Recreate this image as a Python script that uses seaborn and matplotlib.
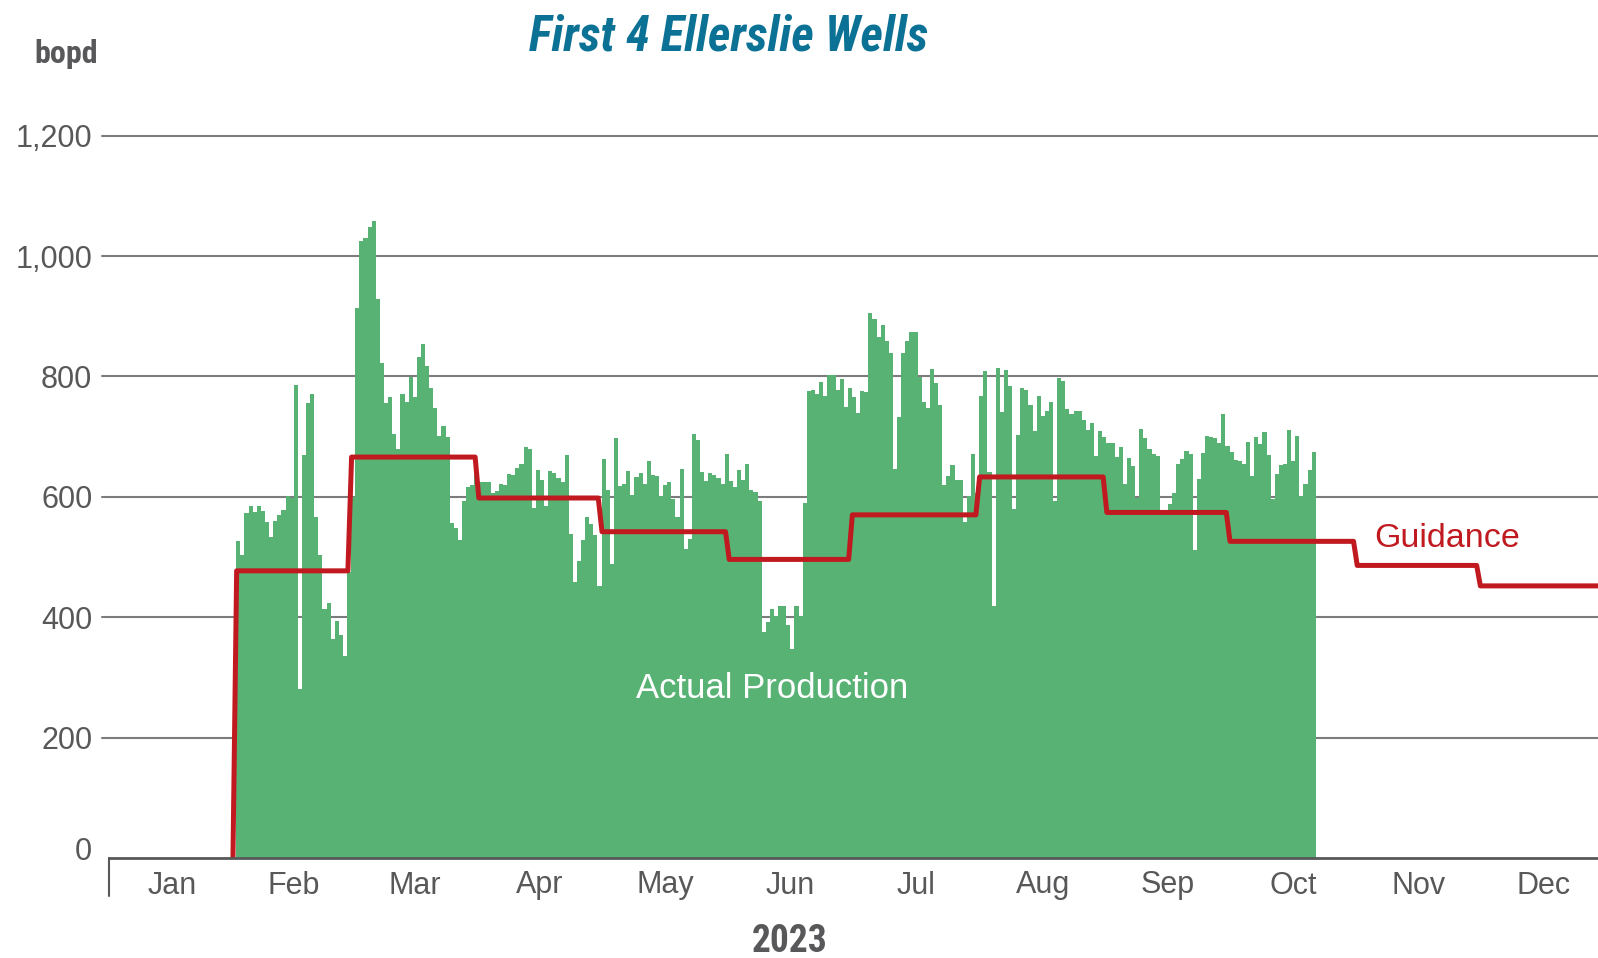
import numpy as np
import pandas as pd
import matplotlib
matplotlib.use("Agg")
import matplotlib.pyplot as plt
import seaborn as sns
from matplotlib import font_manager as fm
from matplotlib.transforms import ScaledTranslation

# daily oil rate (bopd): Feb 1 .. Oct 21, 2023
feb = [527, 503, 573, 585, 575, 585, 577, 558, 534, 560, 569, 578, 602, 598,
       786, 281, 669, 756, 771, 567, 503, 414, 424, 363, 394, 371, 336, 475]
mar = [600, 914, 1025, 1030, 1049, 1058, 929, 822, 755, 765, 704, 679, 771, 757,
       799, 766, 832, 854, 818, 781, 747, 701, 717, 699, 557, 548, 529, 593, 617,
       619, 640]
apr = [625, 625, 625, 607, 610, 621, 619, 638, 636, 648, 655, 682, 680, 581, 645,
       628, 584, 643, 640, 632, 625, 669, 538, 459, 494, 529, 566, 555, 537, 452]
may = [663, 611, 488, 697, 618, 621, 643, 603, 633, 640, 622, 659, 636, 634, 601,
       619, 624, 596, 567, 647, 514, 530, 705, 694, 641, 626, 640, 636, 631, 621,
       671]
jun = [626, 616, 644, 628, 654, 611, 608, 593, 376, 392, 414, 402, 418, 418, 387,
       348, 418, 402, 589, 776, 778, 771, 791, 768, 803, 803, 777, 795, 749, 781]
jul = [765, 739, 776, 774, 905, 896, 866, 885, 859, 839, 647, 733, 839, 859, 874,
       874, 799, 758, 747, 812, 789, 753, 619, 634, 653, 628, 628, 558, 601, 671,
       607]
aug = [768, 809, 642, 418, 814, 741, 810, 784, 580, 702, 781, 778, 753, 710, 768,
       734, 743, 757, 593, 798, 793, 746, 737, 743, 743, 727, 711, 723, 668, 709,
       699]
sep = [689, 689, 666, 682, 621, 665, 651, 598, 712, 698, 680, 671, 668, 575, 578,
       588, 606, 655, 663, 676, 671, 512, 629, 672, 701, 700, 697, 690, 737, 685]
oct_ = [674, 661, 660, 655, 691, 634, 700, 688, 708, 669, 597, 638, 652, 655, 711,
        660, 701, 601, 621, 645, 674]

# monthly guidance, Feb .. Dec
guidance_bopd = [477, 666, 598, 542, 496, 570, 633, 574, 526, 486, 452]
month_labels = ["Jan", "Feb", "Mar", "Apr", "May", "Jun",
                "Jul", "Aug", "Sep", "Oct", "Nov", "Dec"]
y_ticks = [0, 200, 400, 600, 800, 1000, 1200]

GREEN = "#58b274"
RED = "#c01a20"
GREY = "#58585a"
BLUE = "#0b7295"

sns.set_theme(style="white")
avail = {f.name for f in fm.fontManager.ttflist}
NARROW = next((f for f in ["Liberation Sans Narrow", "Roboto Condensed",
                           "Open Sans Condensed", "Noto Sans Condensed"] if f in avail), None)
plt.rcParams["font.family"] = ["Liberation Sans", "DejaVu Sans"]

daily = feb + mar + apr + may + jun + jul + aug + sep + oct_
df = pd.DataFrame({"date": pd.date_range("2023-02-01", periods=len(daily), freq="D"),
                   "bopd": daily})
df["day"] = df["date"].dt.dayofyear - 1 + 0.5      # bar centre, Jan 1 -> 0..1

month_start = np.asarray(pd.date_range("2023-01-01", periods=12, freq="MS").dayofyear - 1)
month_mid = month_start + np.diff(np.append(month_start, 365)) / 2

# guidance step line: ramps up on Feb 1, then steps at each month start
gx, gy = [month_start[1] - 0.8], [0]
prev = None
for ms, g in zip(month_start[1:], guidance_bopd):
    if prev is None:
        gx.append(ms + 0.1)
    else:
        gx += [ms - 0.8, ms + 0.1]
        gy.append(prev)
    gy.append(g)
    prev = g
gx.append(366); gy.append(prev)
guide = pd.DataFrame({"day": gx, "bopd": gy})

fig = plt.figure(figsize=(15.98, 9.58), dpi=100)
ax = fig.add_axes([109 / 1598, 100 / 958, 1490 / 1598, 752.5 / 958])

# grid lines (start a little left of the axis)
for v in y_ticks[1:]:
    ax.plot([-0.005, 1], [v, v], transform=ax.get_yaxis_transform(), color="#7c7c7c",
            lw=1.5, zorder=0, clip_on=False)

sns.barplot(data=df, x="day", y="bopd", native_scale=True, width=1.0, color=GREEN,
            saturation=1, errorbar=None, linewidth=0, ax=ax, zorder=2)
sns.lineplot(data=guide, x="day", y="bopd", color=RED, lw=3.6, estimator=None,
             sort=False, ax=ax, zorder=3)

ax.set_xlim(0, 363)
ax.set_ylim(0, 1250)
ax.set_xlabel(""); ax.set_ylabel("")
for s in ["left", "top", "right"]:
    ax.spines[s].set_visible(False)
ax.spines["bottom"].set_color(GREY)
ax.spines["bottom"].set_linewidth(2)
ax.spines["bottom"].set_zorder(4)

ax.set_xticks(month_start)
ax.set_xticklabels([""] * 12)
ax.set_xticks(month_mid, minor=True)
ax.set_xticklabels(month_labels, minor=True)
ax.tick_params(axis="x", which="major", length=9, width=1.5, color=GREY, direction="out")
ax.tick_params(axis="x", which="minor", length=0, pad=9, labelsize=22, labelcolor=GREY)
ax.plot([0, 0], [0, -38 / 752.5], transform=ax.get_xaxis_transform(), color=GREY,
        lw=1.5, clip_on=False)

ax.set_yticks(y_ticks)
ax.set_yticklabels([f"{v:,}" for v in y_ticks])
ax.tick_params(axis="y", length=0, pad=12, labelsize=22, labelcolor=GREY)
lab0 = ax.get_yticklabels()[0]
lab0.set_transform(lab0.get_transform() + ScaledTranslation(0, 0.1, fig.dpi_scale_trans))

bold_fam = [NARROW, "Liberation Sans"] if NARROW else ["Liberation Sans"]
title_size = 35 if NARROW else 29.5
fig.text(729 / 1598, 1 - 37 / 958, "First 4 Ellerslie Wells", ha="center", va="center",
         fontsize=title_size, fontweight="bold", fontstyle="italic", color=BLUE,
         family=bold_fam)
fig.text(66 / 1598, 1 - 54 / 958, "bopd", ha="center", va="center",
         fontsize=23 if NARROW else 20.5, fontweight="bold", color=GREY, family=bold_fam)
fig.text(790 / 1598, 1 - 942 / 958, "2023", ha="center", va="center",
         fontsize=27 if NARROW else 23.5, fontweight="bold", color=GREY, family=bold_fam)

ax.text(161.6, 282, "Actual Production", ha="center", va="center", fontsize=25,
        color="white", zorder=5)
ax.text(326, 531, "Guidance", ha="center", va="center", fontsize=24.5, color=RED, zorder=5)

fig.savefig("out.png", dpi=100)
